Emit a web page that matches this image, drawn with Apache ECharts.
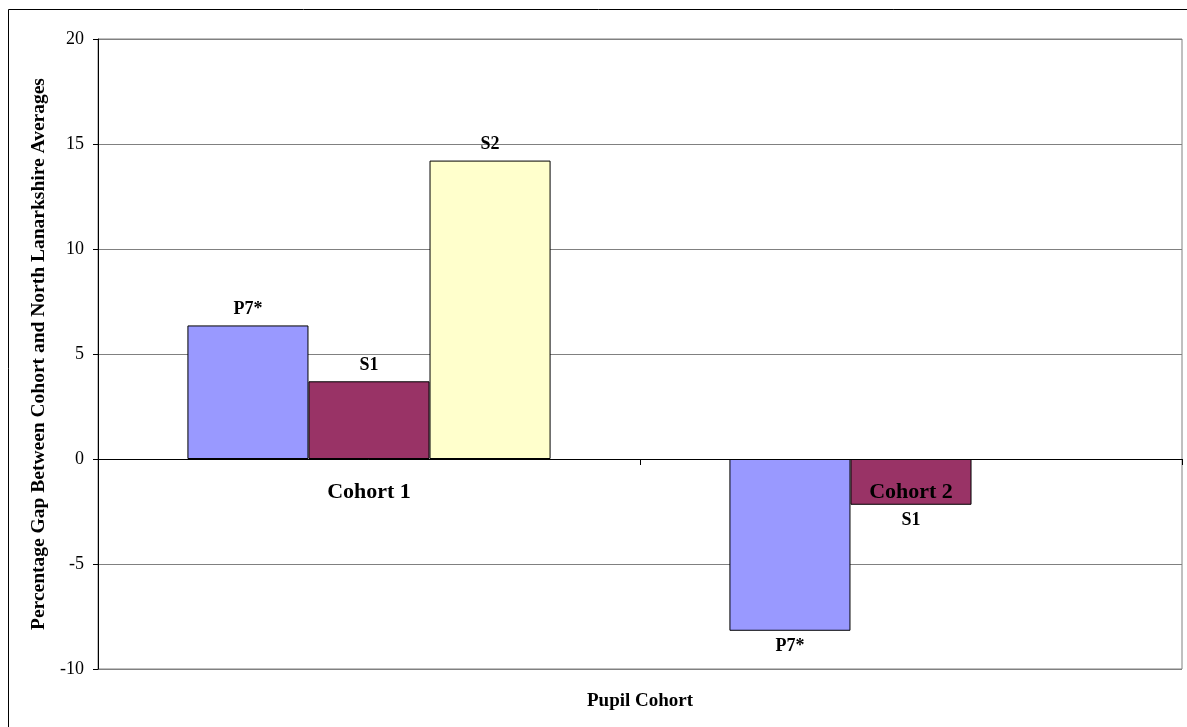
<!DOCTYPE html>
<html>
<head>
<meta charset="utf-8">
<script src="https://cdn.jsdelivr.net/npm/echarts@6/dist/echarts.min.js"></script>
<style>
html,body{margin:0;padding:0;background:#fff;}
#chart{width:1187px;height:727px;}
</style>
</head>
<body>
<div id="chart"></div>
<script>
const categories = ['Cohort 1', 'Cohort 2'];
const seriesNames = ['P7*', 'S1', 'S2'];
const p7Values = [6.36, -8.18];
const s1Values = [3.70, -2.18];
const s2Values = [14.21, null];
const yTicks = [-10, -5, 0, 5, 10, 15, 20];
const colors = ['#9999FF', '#993366', '#FFFFCC'];

const FONT = 'Liberation Serif, Times New Roman, serif';
const allValues = [p7Values, s1Values, s2Values];

const GRID = { left: 98, top: 39, width: 1084, height: 630 };
const yMin = yTicks[0], yMax = yTicks[yTicks.length - 1];
// lift the category axis (and its labels) up to the zero line
const zeroOffset = -((0 - yMin) / (yMax - yMin)) * GRID.height;

function makeData(vals) {
  return vals.map(v => v === null ? null : {
    value: v,
    label: { position: v < 0 ? 'bottom' : 'top' }
  });
}

const chart = echarts.init(document.getElementById('chart'), null, { renderer: 'canvas' });
chart.setOption({
  animation: false,
  backgroundColor: '#fff',
  grid: Object.assign({ show: true, borderColor: '#808080', borderWidth: 1, backgroundColor: '#fff' }, GRID),
  graphic: [
    {
      type: 'rect', x: 8.5, y: 9.5, z: 100, silent: true,
      shape: { x: 0, y: 0, width: 1200, height: 800 },
      style: { fill: 'none', stroke: '#000', lineWidth: 1 }
    },
    {
      type: 'text', x: GRID.left + GRID.width / 2, y: 692, z: 100,
      style: { text: 'Pupil Cohort', font: 'bold 19px ' + FONT, fill: '#000', textAlign: 'center', textVerticalAlign: 'top' }
    }
  ],
  xAxis: {
    type: 'category',
    data: categories,
    z: 5,
    offset: zeroOffset,
    axisLine: { onZero: false, lineStyle: { color: '#000', width: 1 } },
    axisTick: { show: true, length: 6, lineStyle: { color: '#000' } },
    axisLabel: { color: '#000', fontFamily: FONT, fontWeight: 'bold', fontSize: 22, margin: 22 },
    splitLine: { show: false }
  },
  yAxis: {
    type: 'value',
    min: yMin, max: yMax, interval: 5,
    name: 'Percentage Gap Between Cohort and North Lanarkshire Averages',
    nameLocation: 'middle', nameRotate: 90, nameGap: 49,
    nameTextStyle: { color: '#000', fontFamily: FONT, fontWeight: 'bold', fontSize: 19.5 },
    axisLine: { show: true, lineStyle: { color: '#000', width: 1 } },
    axisTick: { show: true, length: 5, lineStyle: { color: '#000' } },
    axisLabel: { color: '#000', fontFamily: FONT, fontSize: 18, margin: 14 },
    splitLine: { show: true, lineStyle: { color: '#808080', width: 1 } }
  },
  series: seriesNames.map((name, i) => ({
    name: name,
    type: 'bar',
    data: makeData(allValues[i]),
    barGap: '0%',
    barCategoryGap: '33%',
    itemStyle: { color: colors[i], borderColor: '#000', borderWidth: 1 },
    label: {
      show: true, formatter: '{a}', distance: 7,
      color: '#000', fontFamily: FONT, fontWeight: 'bold', fontSize: 18
    }
  }))
});
</script>
</body>
</html>
